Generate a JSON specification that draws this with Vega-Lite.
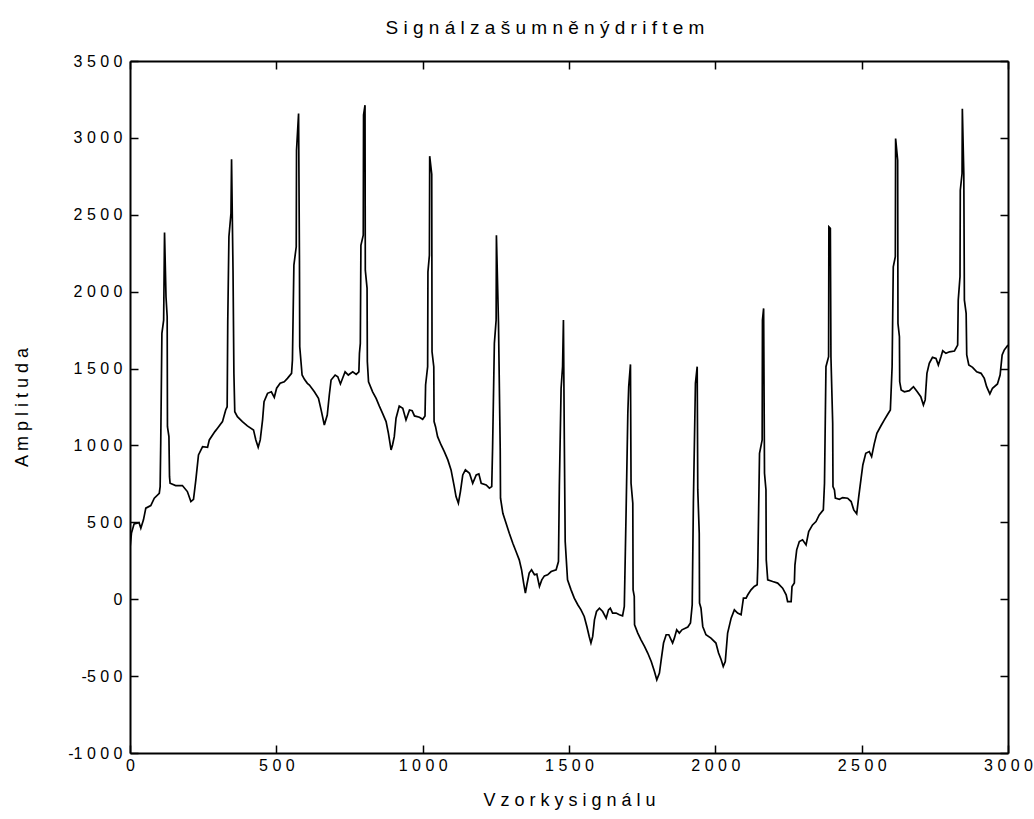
{
  "$schema": "https://vega.github.io/schema/vega-lite/v6.json",
  "width": 878,
  "height": 692,
  "autosize": "none",
  "padding": {"left": 130, "top": 61, "right": 26, "bottom": 66},
  "background": "white",
  "title": {
    "text": "S i g n á l  z a š u m n ě n ý  d r i f t e m",
    "font": "Liberation Sans",
    "fontSize": 19,
    "fontWeight": "normal",
    "color": "black",
    "offset": 15,
    "dx": -24
  },
  "config": {
    "view": {"stroke": null},
    "axis": {
      "domainColor": "black",
      "domainWidth": 2,
      "tickColor": "black",
      "tickWidth": 1.5,
      "tickSize": -8,
      "grid": false,
      "labelFont": "Liberation Sans",
      "labelFontSize": 16,
      "labelColor": "black",
      "titleFont": "Liberation Sans",
      "titleFontSize": 18,
      "titleFontWeight": "normal",
      "titleColor": "black"
    }
  },
  "data": {"values": [
{"s":0,"v":334},{"s":5,"v":430},{"s":14,"v":490},{"s":31,"v":498},{"s":37,"v":462},{"s":46,"v":516},{"s":54,"v":592},{"s":71,"v":609},{"s":83,"v":657},{"s":100,"v":689},{"s":103,"v":732},{"s":105,"v":1014},{"s":109,"v":1729},{"s":115,"v":1815},{"s":118,"v":2385},{"s":123,"v":1967},{"s":127,"v":1837},{"s":128,"v":1122},{"s":133,"v":1057},{"s":135,"v":797},{"s":137,"v":754},{"s":156,"v":739},{"s":179,"v":739},{"s":196,"v":700},{"s":208,"v":635},{"s":217,"v":650},{"s":225,"v":776},{"s":234,"v":938},{"s":248,"v":992},{"s":265,"v":988},{"s":271,"v":1036},{"s":290,"v":1090},{"s":299,"v":1112},{"s":316,"v":1155},{"s":327,"v":1231},{"s":332,"v":1252},{"s":334,"v":1803},{"s":338,"v":2357},{"s":345,"v":2509},{"s":347,"v":2861},{"s":352,"v":2140},{"s":355,"v":1469},{"s":358,"v":1219},{"s":367,"v":1187},{"s":384,"v":1155},{"s":401,"v":1127},{"s":422,"v":1101},{"s":430,"v":1036},{"s":438,"v":988},{"s":445,"v":1036},{"s":453,"v":1166},{"s":458,"v":1284},{"s":470,"v":1339},{"s":483,"v":1349},{"s":493,"v":1313},{"s":501,"v":1372},{"s":513,"v":1404},{"s":527,"v":1414},{"s":538,"v":1436},{"s":552,"v":1469},{"s":555,"v":1555},{"s":560,"v":2173},{"s":568,"v":2292},{"s":569,"v":2920},{"s":576,"v":3158},{"s":579,"v":2205},{"s":580,"v":1642},{"s":588,"v":1458},{"s":596,"v":1430},{"s":606,"v":1404},{"s":613,"v":1393},{"s":630,"v":1349},{"s":644,"v":1306},{"s":653,"v":1231},{"s":664,"v":1133},{"s":674,"v":1198},{"s":681,"v":1328},{"s":687,"v":1425},{"s":701,"v":1458},{"s":710,"v":1447},{"s":719,"v":1400},{"s":735,"v":1479},{"s":746,"v":1458},{"s":761,"v":1479},{"s":773,"v":1462},{"s":782,"v":1479},{"s":784,"v":1599},{"s":787,"v":1664},{"s":789,"v":2302},{"s":797,"v":2367},{"s":798,"v":3148},{"s":803,"v":3213},{"s":804,"v":2140},{"s":810,"v":2023},{"s":811,"v":1544},{"s":815,"v":1414},{"s":829,"v":1349},{"s":841,"v":1306},{"s":852,"v":1256},{"s":863,"v":1209},{"s":875,"v":1155},{"s":883,"v":1079},{"s":892,"v":971},{"s":897,"v":1003},{"s":903,"v":1057},{"s":909,"v":1177},{"s":920,"v":1256},{"s":932,"v":1242},{"s":943,"v":1166},{"s":955,"v":1231},{"s":964,"v":1226},{"s":972,"v":1192},{"s":989,"v":1183},{"s":1000,"v":1170},{"s":1008,"v":1192},{"s":1010,"v":1393},{"s":1017,"v":1512},{"s":1018,"v":2129},{"s":1023,"v":2237},{"s":1024,"v":2881},{"s":1031,"v":2764},{"s":1032,"v":1609},{"s":1038,"v":1512},{"s":1039,"v":1155},{"s":1044,"v":1122},{"s":1051,"v":1057},{"s":1063,"v":1003},{"s":1074,"v":960},{"s":1086,"v":906},{"s":1097,"v":841},{"s":1108,"v":732},{"s":1114,"v":667},{"s":1122,"v":624},{"s":1129,"v":700},{"s":1137,"v":808},{"s":1146,"v":841},{"s":1160,"v":819},{"s":1171,"v":754},{"s":1183,"v":808},{"s":1192,"v":815},{"s":1200,"v":754},{"s":1217,"v":743},{"s":1228,"v":722},{"s":1236,"v":732},{"s":1239,"v":992},{"s":1245,"v":1664},{"s":1251,"v":1815},{"s":1252,"v":2367},{"s":1259,"v":1804},{"s":1265,"v":971},{"s":1266,"v":657},{"s":1274,"v":559},{"s":1285,"v":494},{"s":1296,"v":429},{"s":1308,"v":364},{"s":1319,"v":310},{"s":1330,"v":256},{"s":1338,"v":191},{"s":1345,"v":105},{"s":1351,"v":40},{"s":1356,"v":94},{"s":1364,"v":170},{"s":1372,"v":191},{"s":1382,"v":159},{"s":1390,"v":163},{"s":1399,"v":83},{"s":1407,"v":126},{"s":1416,"v":152},{"s":1427,"v":159},{"s":1439,"v":180},{"s":1456,"v":191},{"s":1464,"v":245},{"s":1467,"v":732},{"s":1473,"v":1372},{"s":1478,"v":1512},{"s":1481,"v":1815},{"s":1484,"v":1036},{"s":1487,"v":375},{"s":1495,"v":126},{"s":1507,"v":61},{"s":1518,"v":7},{"s":1530,"v":-36},{"s":1541,"v":-69},{"s":1552,"v":-112},{"s":1561,"v":-177},{"s":1569,"v":-242},{"s":1575,"v":-285},{"s":1581,"v":-242},{"s":1587,"v":-134},{"s":1594,"v":-80},{"s":1604,"v":-58},{"s":1615,"v":-80},{"s":1627,"v":-123},{"s":1635,"v":-69},{"s":1641,"v":-58},{"s":1649,"v":-90},{"s":1661,"v":-90},{"s":1672,"v":-101},{"s":1683,"v":-108},{"s":1689,"v":-47},{"s":1695,"v":559},{"s":1701,"v":1209},{"s":1704,"v":1382},{"s":1710,"v":1527},{"s":1712,"v":754},{"s":1718,"v":624},{"s":1719,"v":61},{"s":1723,"v":18},{"s":1724,"v":-166},{"s":1735,"v":-220},{"s":1746,"v":-264},{"s":1758,"v":-307},{"s":1769,"v":-350},{"s":1781,"v":-405},{"s":1792,"v":-470},{"s":1800,"v":-524},{"s":1809,"v":-480},{"s":1815,"v":-394},{"s":1823,"v":-285},{"s":1832,"v":-231},{"s":1841,"v":-231},{"s":1849,"v":-264},{"s":1854,"v":-285},{"s":1860,"v":-253},{"s":1868,"v":-199},{"s":1877,"v":-220},{"s":1886,"v":-199},{"s":1906,"v":-181},{"s":1915,"v":-155},{"s":1921,"v":-36},{"s":1925,"v":624},{"s":1932,"v":1404},{"s":1938,"v":1512},{"s":1940,"v":711},{"s":1945,"v":429},{"s":1946,"v":-25},{"s":1951,"v":-58},{"s":1957,"v":-177},{"s":1968,"v":-231},{"s":1985,"v":-253},{"s":2002,"v":-285},{"s":2011,"v":-350},{"s":2020,"v":-394},{"s":2027,"v":-437},{"s":2034,"v":-405},{"s":2042,"v":-220},{"s":2054,"v":-123},{"s":2065,"v":-69},{"s":2076,"v":-90},{"s":2088,"v":-101},{"s":2096,"v":7},{"s":2105,"v":7},{"s":2111,"v":29},{"s":2122,"v":61},{"s":2133,"v":83},{"s":2143,"v":94},{"s":2145,"v":213},{"s":2151,"v":949},{"s":2160,"v":1036},{"s":2161,"v":1815},{"s":2165,"v":1891},{"s":2168,"v":819},{"s":2173,"v":711},{"s":2174,"v":256},{"s":2179,"v":126},{"s":2196,"v":115},{"s":2213,"v":105},{"s":2230,"v":72},{"s":2242,"v":29},{"s":2247,"v":-15},{"s":2259,"v":-15},{"s":2262,"v":83},{"s":2270,"v":105},{"s":2272,"v":222},{"s":2278,"v":321},{"s":2287,"v":375},{"s":2298,"v":386},{"s":2310,"v":353},{"s":2319,"v":440},{"s":2332,"v":483},{"s":2344,"v":505},{"s":2355,"v":548},{"s":2369,"v":581},{"s":2373,"v":754},{"s":2378,"v":1512},{"s":2387,"v":1577},{"s":2388,"v":2421},{"s":2393,"v":2411},{"s":2395,"v":1577},{"s":2401,"v":1144},{"s":2402,"v":732},{"s":2407,"v":711},{"s":2410,"v":657},{"s":2424,"v":650},{"s":2435,"v":661},{"s":2452,"v":657},{"s":2464,"v":635},{"s":2473,"v":581},{"s":2483,"v":555},{"s":2490,"v":667},{"s":2498,"v":786},{"s":2504,"v":873},{"s":2514,"v":949},{"s":2526,"v":960},{"s":2534,"v":927},{"s":2543,"v":1010},{"s":2552,"v":1079},{"s":2566,"v":1128},{"s":2577,"v":1165},{"s":2588,"v":1200},{"s":2598,"v":1231},{"s":2604,"v":1512},{"s":2608,"v":2162},{"s":2615,"v":2227},{"s":2616,"v":2996},{"s":2623,"v":2855},{"s":2624,"v":1794},{"s":2629,"v":1707},{"s":2630,"v":1414},{"s":2635,"v":1361},{"s":2646,"v":1349},{"s":2663,"v":1356},{"s":2677,"v":1382},{"s":2690,"v":1349},{"s":2702,"v":1317},{"s":2711,"v":1263},{"s":2717,"v":1296},{"s":2723,"v":1469},{"s":2731,"v":1534},{"s":2742,"v":1573},{"s":2754,"v":1566},{"s":2762,"v":1523},{"s":2771,"v":1577},{"s":2777,"v":1616},{"s":2788,"v":1599},{"s":2800,"v":1609},{"s":2817,"v":1614},{"s":2828,"v":1653},{"s":2830,"v":1945},{"s":2836,"v":2097},{"s":2837,"v":2660},{"s":2843,"v":2768},{"s":2844,"v":3190},{"s":2849,"v":2768},{"s":2851,"v":1945},{"s":2857,"v":1859},{"s":2859,"v":1588},{"s":2866,"v":1523},{"s":2879,"v":1508},{"s":2893,"v":1479},{"s":2908,"v":1469},{"s":2919,"v":1436},{"s":2927,"v":1382},{"s":2938,"v":1335},{"s":2947,"v":1372},{"s":2964,"v":1400},{"s":2973,"v":1458},{"s":2980,"v":1588},{"s":2987,"v":1620},{"s":3000,"v":1653}
  ]},
  "layer": [
    {
      "mark": {"type": "line", "color": "black", "strokeWidth": 1.7, "clip": true},
      "encoding": {
        "x": {
          "field": "s", "type": "quantitative",
          "scale": {"domain": [0, 3000], "nice": false, "zero": false},
          "axis": {
            "orient": "bottom",
            "values": [0, 500, 1000, 1500, 2000, 2500, 3000],
            "labelExpr": "join(split(toString(datum.value), ''), ' ')",
            "labelPadding": 12,
            "labelFlush": false,
            "title": "V z o r k y  s i g n á l u",
            "titleY": 47,
            "titleBaseline": "middle"
          }
        },
        "y": {
          "field": "v", "type": "quantitative",
          "scale": {"domain": [-1000, 3500], "nice": false, "zero": false},
          "axis": {
            "orient": "left",
            "values": [-1000, -500, 0, 500, 1000, 1500, 2000, 2500, 3000, 3500],
            "labelExpr": "replace(join(split(toString(datum.value), ''), ' '), '- ', '-')",
            "labelPadding": 16,
            "labelFlush": false,
            "title": "A m p l i t u d a",
            "titleX": -108,
            "titleBaseline": "middle",
            "titleAlign": "center",
            "titleAngle": -90
          }
        }
      }
    },
    {
      "mark": {"type": "line", "opacity": 0},
      "encoding": {
        "x": {
          "field": "s", "type": "quantitative",
          "axis": {"orient": "top", "labels": false, "title": null, "values": [0, 500, 1000, 1500, 2000, 2500, 3000]}
        },
        "y": {
          "field": "v", "type": "quantitative",
          "axis": {"orient": "right", "labels": false, "title": null, "values": [-1000, -500, 0, 500, 1000, 1500, 2000, 2500, 3000, 3500]}
        }
      }
    }
  ],
  "resolve": {"axis": {"x": "independent", "y": "independent"}}
}
